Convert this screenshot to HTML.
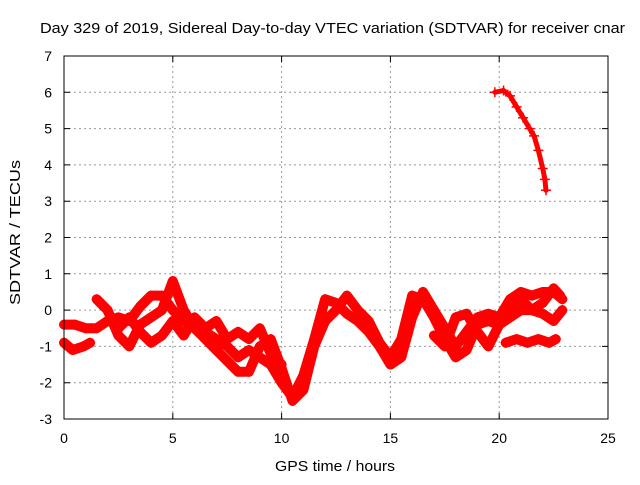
<!DOCTYPE html>
<html><head><meta charset="utf-8"><style>
body{margin:0;background:#fff;width:640px;height:480px;overflow:hidden}
text{font-family:"Liberation Sans",sans-serif;font-size:14px;fill:#000}
</style></head><body>
<svg id="chart" width="640" height="480" xmlns="http://www.w3.org/2000/svg">
<text x="40" y="33" textLength="585" lengthAdjust="spacingAndGlyphs" style="font-size:15px">Day 329 of 2019, Sidereal Day-to-day VTEC variation (SDTVAR) for receiver cnar</text>
<g id="grid"></g>
<g id="axes"></g>
<g id="series"></g>
<rect x="64" y="56" width="544" height="363" fill="none" stroke="#000" stroke-width="1"/>
<text x="275" y="471" textLength="120" lengthAdjust="spacingAndGlyphs" style="font-size:15px">GPS time / hours</text>
<text transform="translate(20,305) rotate(-90)" textLength="145" lengthAdjust="spacingAndGlyphs" style="font-size:15px">SDTVAR / TECUs</text>
</svg>
<script>
const xTicks=[0,5,10,15,20,25];
const yTicks=[-3,-2,-1,0,1,2,3,4,5,6,7];
const track1=[[0,-0.4],[0.5,-0.4],[1,-0.5],[1.5,-0.5],[2,-0.3],[2.5,-0.2],[3,-0.3],[3.5,0.1],[4,0.4],[4.5,0.4],[5,0],[5.5,-0.3],[6,-0.4],[6.5,-0.6],[7,-0.8],[7.5,-1.0],[8,-1.3],[8.5,-1.1],[9,-1.3],[9.5,-1.5],[10,-2.0],[10.5,-2.4],[11,-1.8],[11.5,-0.8],[12,0.3],[12.5,0.2],[13,-0.1],[13.5,-0.3],[14,-0.6],[14.5,-1.0],[15,-1.5],[15.5,-1.3],[16,-0.2],[16.5,0.5],[17,0],[17.5,-0.5],[18,-1.0],[18.5,-0.6],[19,-0.2],[19.5,-0.1],[20,-0.2],[20.5,0.3],[21,0.5],[21.5,0.4],[22,0.5],[22.5,0.5],[22.9,0.3]];
const track2=[[0,-0.9],[0.4,-1.1],[0.9,-1.0],[1.2,-0.9]];
const track3=[[1.5,0.3],[2,0],[2.5,-0.7],[3,-1.0],[3.5,-0.4],[4,-0.2],[4.5,0],[5,0.8],[5.5,0],[6,-0.5],[6.5,-0.8],[7,-1.1],[7.5,-1.4],[8,-1.7],[8.5,-1.7],[9,-1.0],[9.5,-0.8],[10,-1.6],[10.5,-2.5],[11,-2.2],[11.5,-1.0],[12,-0.3],[12.5,0],[13,0.4],[13.5,0],[14,-0.3],[14.5,-0.9],[15,-1.3],[15.5,-0.8],[16,0.4],[16.5,0.3],[17,-0.2],[17.5,-0.8],[18,-1.3],[18.5,-1.1],[19,-0.4],[19.5,-0.3],[20,-0.4],[20.5,-0.2],[21,0],[21.5,0],[22,-0.1],[22.5,-0.3],[22.9,0]];
const track4=[[2.5,-0.5],[3,-0.2],[3.5,-0.6],[4,-0.9],[4.5,-0.7],[5,-0.3],[5.5,-0.7],[6,-0.2],[6.5,-0.5],[7,-0.3],[7.5,-0.8],[8,-0.6],[8.5,-0.8],[9,-0.5],[9.5,-1.2],[10,-1.5]];
const track5=[[17,-0.7],[17.5,-1.0],[18,-0.2],[18.5,-0.1],[19,-0.6],[19.5,-1.0],[20,-0.4],[20.5,0],[21,0.3],[21.5,0],[22,0.2],[22.5,0.6],[22.8,0.4]];
const track6=[[20.3,-0.9],[20.8,-0.8],[21.3,-0.9],[21.8,-0.8],[22.3,-0.9],[22.6,-0.8]];
const track7=[[19.8,6.0],[20.2,6.05],[20.5,5.9],[20.8,5.6],[21.1,5.3],[21.4,5.0],[21.6,4.8],[21.8,4.4],[22.0,3.9],[22.1,3.6],[22.15,3.3]];
const tracks=[track1,track2,track3,track4,track5,track6,track7];
const NS="http://www.w3.org/2000/svg";
const X=v=>64+v*544/25, Y=v=>419-(v+3)*363/10;
const grid=document.getElementById('grid'),axes=document.getElementById('axes'),ser=document.getElementById('series');
function mk(tag,attrs,parent){const e=document.createElementNS(NS,tag);for(const k in attrs)e.setAttribute(k,attrs[k]);parent.appendChild(e);return e;}
xTicks.forEach(t=>{const x=X(t);
 if(t>0&&t<25){const g=mk('line',{x1:x,x2:x,y1:56,y2:419,stroke:'#999','stroke-dasharray':'2,3'},grid);
 
 }
 const tk=mk('path',{d:`M${x},419v-6M${x},56v6`,stroke:'#000'},axes);
 
 
 const l=mk('text',{x:x,y:443,'text-anchor':'middle'},axes);l.textContent=t;
 
 });
yTicks.forEach(t=>{const y=Y(t);
 if(t>-3&&t<7){const g=mk('line',{x1:64,x2:608,y1:y,y2:y,stroke:'#999','stroke-dasharray':'2,3'},grid);
 
 }
 const tk=mk('path',{d:`M64,${y}h6M608,${y}h-6`,stroke:'#000'},axes);
 
 
 const l=mk('text',{x:52,y:y+5,'text-anchor':'end'},axes);l.textContent=t;
 
 });
tracks.forEach((tr,i)=>{
 const w=(tr===track7)?5:10;
 const p=mk('polyline',{points:tr.map(d=>X(d[0])+','+Y(d[1])).join(' '),fill:'none',stroke:'#f00','stroke-width':w,'stroke-linejoin':'round','stroke-linecap':'round'},ser);
 
 
 tr.forEach(d=>{const x=X(d[0]),y=Y(d[1]);
  const m=mk('path',{d:`M${x-5},${y}h10M${x},${y-5}v10`,stroke:'#f00','stroke-width':1.5},ser);
  
  });
});
</script>
</body></html>
